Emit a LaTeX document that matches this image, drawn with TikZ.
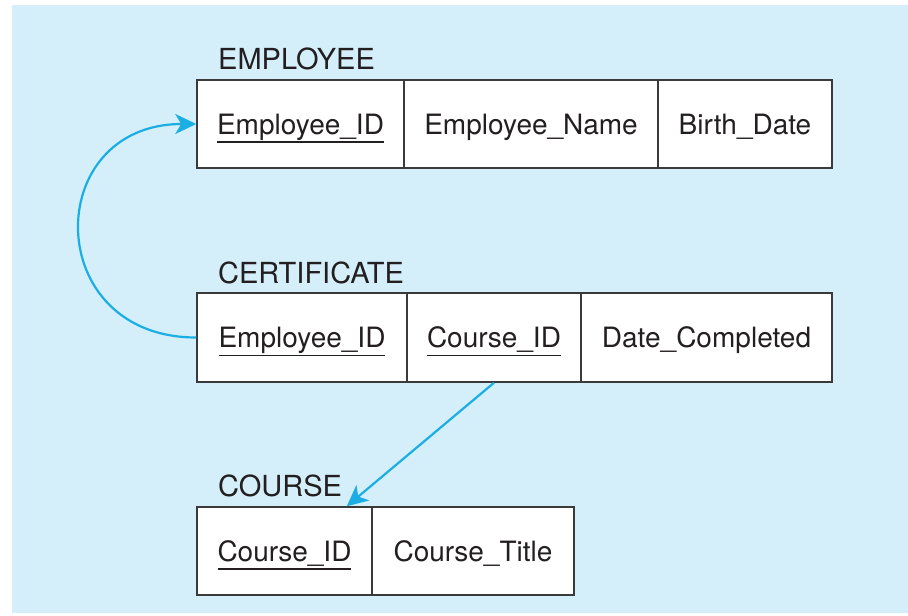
\documentclass[tikz,border=0pt]{standalone}
\usepackage{fontspec}
\setmainfont{TeX Gyre Heros}
\usetikzlibrary{arrows.meta}
\definecolor{bgblue}{HTML}{D4EEFA}
\definecolor{arrowblue}{HTML}{1BAEE4}
\definecolor{ink}{HTML}{231F20}
\definecolor{boxline}{HTML}{3A3A3A}
\newcommand\keyfield[1]{\setbox0\hbox{#1}\rlap{\color{ink}\rule[-8.7pt]{\wd0}{1.4pt}}\box0}
\begin{document}
\begin{tikzpicture}[x=1pt,y=-1pt,
  font=\fontsize{28}{32}\selectfont, text=ink,
  cell/.style={draw=boxline, line width=1.5pt, fill=white, inner sep=0pt, minimum height=88pt},
  fld/.style={anchor=base, inner sep=0pt},
  tabletitle/.style={anchor=base west, inner sep=0pt, font=\fontsize{29}{33}\selectfont},
  fk/.style={draw=arrowblue, line width=2.2pt, -{Stealth[length=21pt,width=20pt,inset=6pt]}}]
\useasboundingbox (0,0) rectangle (908,616);
\fill[bgblue] (12,5) rectangle (908,612.5);

% EMPLOYEE
\node[tabletitle] (te) at (218,69) {EMPLOYEE};
\node[cell, minimum width=207pt] (e1) at (300.5,124) {};
\node[cell, minimum width=254pt] (e2) at (531,124) {};
\node[cell, minimum width=174pt] (e3) at (745,124) {};
\node[fld] (e1t) at ([yshift=-10pt]e1.center) {\keyfield{Employee\_ID}};
\node[fld] (e2t) at ([yshift=-10pt]e2.center) {Employee\_Name};
\node[fld] (e3t) at ([yshift=-10pt]e3.center) {Birth\_Date};

% CERTIFICATE
\node[tabletitle] (tc) at (218,283) {CERTIFICATE};
\node[cell, minimum width=210pt, minimum height=89pt] (c1) at (302,337.5) {};
\node[cell, minimum width=174pt, minimum height=89pt] (c2) at (494,337.5) {};
\node[cell, minimum width=251pt, minimum height=89pt] (c3) at (706.5,337.5) {};
\node[fld] (c1t) at ([yshift=-10pt]c1.center) {\keyfield{Employee\_ID}};
\node[fld] (c2t) at ([yshift=-10pt]c2.center) {\keyfield{Course\_ID}};
\node[fld] (c3t) at ([yshift=-10pt]c3.center) {Date\_Completed};

% COURSE
\node[tabletitle] (tk) at (218,496) {COURSE};
\node[cell, minimum width=175pt] (k1) at (284.5,551) {};
\node[cell, minimum width=202pt] (k2) at (473,551) {};
\node[fld] (k1t) at ([yshift=-10pt]k1.center) {\keyfield{Course\_ID}};
\node[fld] (k2t) at ([yshift=-10pt]k2.center) {Course\_Title};

% connectors
\coordinate (kin) at ([xshift=-26pt]k1.north east);
\draw[fk] (c1.west) .. controls (41,337.5) and (41,124) .. (e1.west);
\draw[fk] (c2.south) -- (kin);
\end{tikzpicture}
\end{document}
